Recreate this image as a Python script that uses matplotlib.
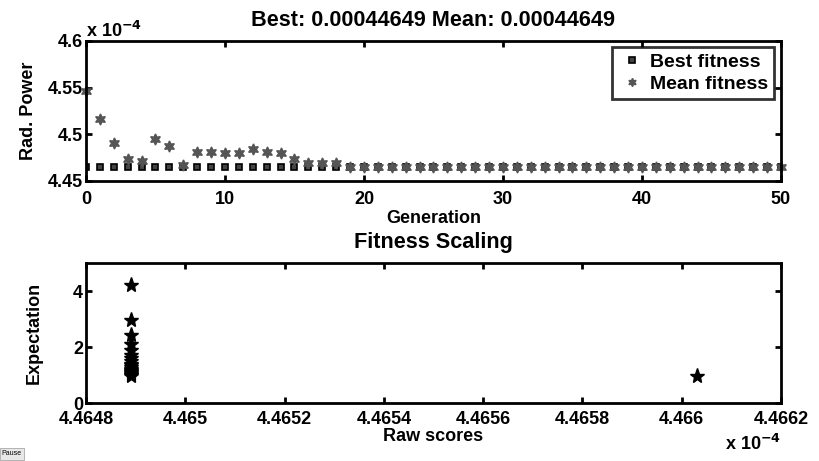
import matplotlib
matplotlib.use('Agg')
import matplotlib.pyplot as plt
import numpy as np

plt.rcParams['font.family'] = ['Liberation Sans', 'DejaVu Sans']
plt.rcParams['font.weight'] = 'bold'
plt.rcParams['axes.labelweight'] = 'bold'
plt.rcParams['axes.titleweight'] = 'bold'
plt.rcParams['font.size'] = 13

# values in units of 1e-4
generations = list(range(0, 51))
best_fitness = [4.4649] * 51
mean_fitness = [4.5466, 4.5163, 4.4910, 4.4732, 4.4714, 4.4945, 4.4874, 4.4675,
                4.4814, 4.4814, 4.4803, 4.4803, 4.4839, 4.4814, 4.4803, 4.4732,
                4.4696, 4.4696, 4.4696] + [4.4652] * 32

raw_scores = [4.46489] * 19 + [4.46603]
expectation = [4.22, 2.98, 2.44, 2.11, 1.89, 1.72, 1.60, 1.49, 1.41, 1.34,
               1.27, 1.22, 1.17, 1.13, 1.09, 1.06, 1.02, 1.00, 0.97, 0.95]

top_xticks = [0, 10, 20, 30, 40, 50]
top_yticks = [4.45, 4.5, 4.55, 4.6]
bot_xticks = [4.4648, 4.465, 4.4652, 4.4654, 4.4656, 4.4658, 4.466, 4.4662]
bot_yticks = [0, 2, 4]

fig = plt.figure(figsize=(8.19, 4.61), dpi=100)
ax1 = fig.add_axes([0.105, 0.6074, 0.8486, 0.3037])
ax2 = fig.add_axes([0.105, 0.1258, 0.8486, 0.3037])

for ax in (ax1, ax2):
    for s in ax.spines.values():
        s.set_linewidth(2)
    ax.tick_params(direction='in', length=4, width=2, top=True, right=True,
                   labelsize=13, pad=2)

ax1.plot(generations, best_fitness, ls='none', marker='s', ms=5,
         mfc='#444444', mec='black', mew=1.2, label='Best fitness')
ax1.plot(generations, mean_fitness, ls='none', marker=(6, 1, 0), ms=8,
         color='#555555', label='Mean fitness', clip_on=False)
ax1.set_xlim(0, 50)
ax1.set_ylim(4.45, 4.6)
ax1.set_xticks(top_xticks)
ax1.set_yticks(top_yticks)
ax1.set_yticklabels(['4.45', '4.5', '4.55', '4.6'])
ax1.tick_params(axis='x', pad=7)
ax1.set_xlabel('Generation', labelpad=2)
ax1.set_ylabel('Rad. Power', labelpad=8)
ax1.set_title('Best: 0.00044649 Mean: 0.00044649', pad=11)
ax1.text(0.0, 1.0, 'x 10$^{\\mathbf{-4}}$', transform=ax1.transAxes,
         ha='left', va='bottom', fontsize=13)
leg = ax1.legend(loc='upper right', frameon=True, fancybox=False,
                 edgecolor='black', handletextpad=0.2, borderpad=0.3,
                 labelspacing=0.25, handlelength=1.45, markerscale=0.75,
                 fontsize=14, bbox_to_anchor=(0.99, 0.955), borderaxespad=0)
leg.get_frame().set_linewidth(2)

ax2.plot(raw_scores, expectation, ls='none', marker='*', ms=11,
         color='black')
ax2.set_xlim(4.4648, 4.4662)
ax2.set_ylim(0, 5)
ax2.set_xticks(bot_xticks)
ax2.set_xticklabels(['4.4648', '4.465', '4.4652', '4.4654', '4.4656',
                     '4.4658', '4.466', '4.4662'])
ax2.set_yticks(bot_yticks)
ax2.tick_params(axis='x', pad=6)
ax2.set_xlabel('Raw scores', labelpad=0)
ax2.set_ylabel('Expectation', labelpad=22)
ax2.set_title('Fitness Scaling', pad=11)
ax2.text(1.0, -0.22, 'x 10$^{\\mathbf{-4}}$', transform=ax2.transAxes,
         ha='right', va='top', fontsize=13)

fig.text(0.002, 0.012, 'Pause', fontsize=5, fontweight='normal',
         bbox=dict(boxstyle='square,pad=0.3', fc='#e8e8e8', ec='#999999', lw=0.5))

fig.savefig('out.png', dpi=100)
